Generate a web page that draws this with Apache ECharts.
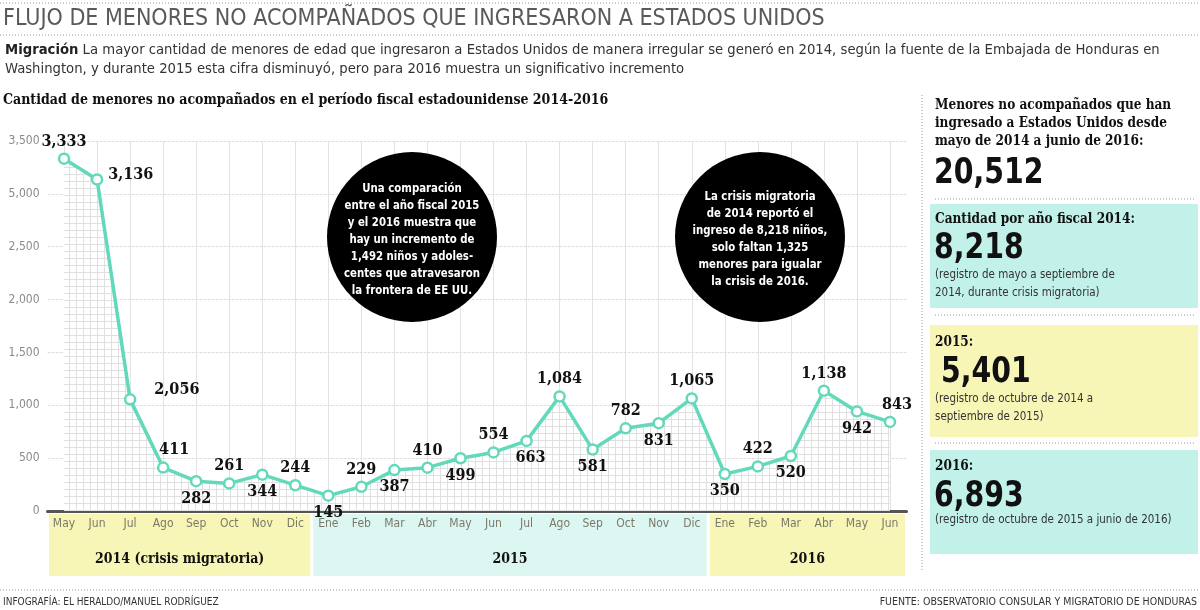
<!DOCTYPE html>
<html>
<head>
<meta charset="utf-8">
<script src="https://cdn.jsdelivr.net/npm/echarts@6/dist/echarts.min.js"></script>
<style>
html,body{margin:0;padding:0;background:#fff;}
#main{width:1200px;height:610px;}
</style>
</head>
<body>
<div id="main"></div>
<script>
// ---------- DATA ----------
const categories = ['May','Jun','Jul','Ago','Sep','Oct','Nov','Dic','Ene','Feb','Mar','Abr','May','Jun','Jul','Ago','Sep','Oct','Nov','Dic','Ene','Feb','Mar','Abr','May','Jun'];
const values = [3333,3136,1056,411,282,261,344,244,145,229,387,410,499,554,663,1084,581,782,831,1065,350,422,520,1138,942,843];
// point labels exactly as printed on the reference
const pointLabels = ['3,333','3,136','2,056','411','282','261','344','244','145','229','387','410','499','554','663','1,084','581','782','831','1,065','350','422','520','1,138','942','843'];
// y tick labels as printed
const yTickValues = [0,500,1000,1500,2000,2500,3000,3500];
const yTickLabels = ['0','500','1,000','1,500','2,000','2,500','5,000','3,500'];
// period bands
const periodNames = ['2014 (crisis migratoria)','2015','2016'];
const periodStart = [0,8,20];
const periodEnd = [7,19,25];
// summary panel
const totalTitle = ['Menores no acompañados que han','ingresado a Estados Unidos desde','mayo de 2014 a junio de 2016:'];
const totalValue = '20,512';
const fyTitles = ['Cantidad por año fiscal 2014:','2015:','2016:'];
const fyValues = ['8,218','5,401','6,893'];
const fyNotes = [['(registro de mayo a septiembre de','2014, durante crisis migratoria)'],['(registro de octubre de 2014 a','septiembre de 2015)'],['(registro de octubre de 2015 a junio de 2016)']];

// ---------- STYLE ----------
const labelPlacement = ['top','right','jul','agoTop','bottom','top','bottom','top','bottom','top','bottom','top','bottom','top','bottomR','top','bottom','top','bottom','top','bottom','top','bottom','top','bottom','topR'];
const YELLOW = '#f7f6b6', CYAN_BAND = '#dcf6f2', CYAN_BOX = '#c2f1e9', LINE = '#62d9bb';
const NARROW = "'Liberation Sans Narrow','DejaVu Sans Condensed',sans-serif";
const SERIF = "'DejaVu Serif Condensed','DejaVu Serif',serif";

function placement(p){
  switch(p){
    case 'top': return {position:'top', distance:3};
    case 'bottom': return {position:'bottom', distance:3};
    case 'right': return {position:'right', distance:5, offset:[0,-5]};
    case 'jul': return {position:'right', distance:18, offset:[0,-10]};
    case 'agoTop': return {position:'top', distance:3, offset:[11,0]};
    case 'bottomR': return {position:'bottom', distance:3, offset:[4,0]};
    case 'topR': return {position:'top', distance:3, offset:[7,0]};
  }
}

// hatch pattern for the area
const pc = document.createElement('canvas');
pc.width = 7; pc.height = 7;
const pctx = pc.getContext('2d');
pctx.fillStyle = '#ffffff'; pctx.fillRect(0,0,7,7);
pctx.fillStyle = '#e0e0e0';
pctx.fillRect(6,0,1,7); pctx.fillRect(0,6,7,1);

const seriesData = values.map((v,i)=>({value:v, label:placement(labelPlacement[i])}));

const chart = echarts.init(document.getElementById('main'), null, {renderer:'canvas'});

function dotted(x1,y1,x2,y2){
  return {type:'line', shape:{x1,y1,x2,y2}, style:{stroke:'#9a9a9a', lineWidth:1, lineDash:[1,2]}, silent:true};
}
function txt(x,y,text,font,fill,extra,sx){
  return {type:'text', x, y, scaleX:sx||1, silent:true, style:Object.assign({text, font, fill, textVerticalAlign:'middle'}, extra||{})};
}

const staticGraphics = [
  dotted(0,3,1200,3),
  txt(3,19,'FLUJO DE MENORES NO ACOMPAÑADOS QUE INGRESARON A ESTADOS UNIDOS','normal 23px '+NARROW,'#5a5a5a'),
  dotted(0,35,1200,35),
  {type:'text', x:5, y:50, silent:true, style:{text:'{b|Migración} La mayor cantidad de menores de edad que ingresaron a Estados Unidos de manera irregular se generó en 2014, según la fuente de la Embajada de Honduras en', font:'14.7px '+NARROW, fill:'#333', textVerticalAlign:'middle', rich:{b:{font:'bold 14.7px '+NARROW, fill:'#222'}}}},
  txt(5,69,'Washington, y durante 2015 esta cifra disminuyó, pero para 2016 muestra un significativo incremento','14.7px '+NARROW,'#333'),
  txt(3,100,'Cantidad de menores no acompañados en el período fiscal estadounidense 2014-2016','bold 14px '+SERIF,'#111'),
  // annotation circles
  {type:'circle', shape:{cx:412, cy:237, r:85}, style:{fill:'#000'}, z:5, silent:true},
  {type:'text', x:412, y:240, scaleX:0.87, z:6, silent:true, style:{text:'Una comparación\nentre el año fiscal 2015\ny el 2016 muestra que\nhay un incremento de\n1,492 niños y adoles-\ncentes que atravesaron\nla frontera de EE UU.', font:'bold 13px '+NARROW, fill:'#fff', align:'center', verticalAlign:'middle', lineHeight:17}},
  {type:'circle', shape:{cx:760, cy:237, r:85}, style:{fill:'#000'}, z:5, silent:true},
  {type:'text', x:760, y:239, scaleX:0.87, z:6, silent:true, style:{text:'La crisis migratoria\nde 2014 reportó el\ningreso de 8,218 niños,\nsolo faltan 1,325\nmenores para igualar\nla crisis de 2016.', font:'bold 13px '+NARROW, fill:'#fff', align:'center', verticalAlign:'middle', lineHeight:17}},
  // right panel
  dotted(922,95,922,572),
  txt(935,105,totalTitle[0],'bold 15px '+SERIF,'#111',null,0.9),
  txt(935,123,totalTitle[1],'bold 15px '+SERIF,'#111',null,0.9),
  txt(935,141,totalTitle[2],'bold 15px '+SERIF,'#111',null,0.9),
  txt(934,174,totalValue,'bold 35px '+NARROW,'#111',null,0.9),
  dotted(935,199,1195,199),
  {type:'rect', shape:{x:930,y:204,width:268,height:104}, style:{fill:CYAN_BOX}, silent:true},
  txt(935,219,fyTitles[0],'bold 15px '+SERIF,'#111',null,0.9),
  txt(934,249,fyValues[0],'bold 35px '+NARROW,'#111',null,0.9),
  txt(935,275,fyNotes[0][0],'11.5px '+NARROW,'#333'),
  txt(935,293,fyNotes[0][1],'11.5px '+NARROW,'#333'),
  dotted(935,315,1195,315),
  {type:'rect', shape:{x:930,y:325,width:268,height:112}, style:{fill:YELLOW}, silent:true},
  txt(935,342,fyTitles[1],'bold 15px '+SERIF,'#111',null,0.9),
  txt(941,373,fyValues[1],'bold 35px '+NARROW,'#111',null,0.9),
  txt(935,399,fyNotes[1][0],'11.5px '+NARROW,'#333'),
  txt(935,417,fyNotes[1][1],'11.5px '+NARROW,'#333'),
  dotted(935,443,1195,443),
  {type:'rect', shape:{x:930,y:450,width:268,height:104}, style:{fill:CYAN_BOX}, silent:true},
  txt(935,466,fyTitles[2],'bold 15px '+SERIF,'#111',null,0.9),
  txt(934,497,fyValues[2],'bold 35px '+NARROW,'#111',null,0.9),
  txt(935,520,fyNotes[2][0],'11.5px '+NARROW,'#333'),
  // footer
  dotted(0,590,1200,590),
  txt(3,602,'INFOGRAFÍA: EL HERALDO/MANUEL RODRÍGUEZ','10px '+NARROW,'#333'),
  txt(1197,602,'FUENTE: OBSERVATORIO CONSULAR Y MIGRATORIO DE HONDURAS','10.5px '+NARROW,'#333',{align:'right'})
];

const option = {
  animation:false,
  backgroundColor:'#fff',
  grid:{left:47.5, right:293.5, top:141, bottom:99, containLabel:false},
  xAxis:{
    type:'category', data:categories, boundaryGap:true,
    axisLine:{show:true, lineStyle:{color:'#555', width:3}},
    axisTick:{show:false},
    axisLabel:{color:'#7a7a6a', fontFamily:NARROW, fontSize:12, margin:7, interval:0},
    splitLine:{show:true, alignWithLabel:true, lineStyle:{color:'#e2e2e2', width:1}}
  },
  yAxis:{
    type:'value', min:0, max:3500, interval:500,
    axisLine:{show:false}, axisTick:{show:false},
    axisLabel:{color:'#8a8a8a', fontFamily:NARROW, fontSize:12, margin:8,
      formatter:(v)=>{const i=yTickValues.indexOf(v); return i>=0?yTickLabels[i]:'';}},
    splitLine:{lineStyle:{color:'#dedede', width:1, type:[3,1]}}
  },
  series:[{
    type:'line', data:seriesData, z:10,
    symbol:'circle', symbolSize:10, showAllSymbol:true,
    itemStyle:{color:'#fff', borderColor:LINE, borderWidth:2.5},
    lineStyle:{color:LINE, width:3.5},
    areaStyle:{color:{image:pc, repeat:'repeat'}, opacity:1, origin:'start'},
    label:{show:true, color:'#111', fontFamily:SERIF, fontWeight:'bold', fontSize:16,
      formatter:(p)=>pointLabels[p.dataIndex]}
  }],
  graphic: staticGraphics
};
chart.setOption(option);

// period bands below the axis, positioned via the category scale
const c0 = chart.convertToPixel({xAxisIndex:0}, 0);
const c1 = chart.convertToPixel({xAxisIndex:0}, 1);
const half = (c1 - c0)/2;
const bandColors = [YELLOW, CYAN_BAND, YELLOW];
const bands = [];
periodNames.forEach((name,i)=>{
  const xa = chart.convertToPixel({xAxisIndex:0}, periodStart[i]) - half + 1.5;
  const xb = chart.convertToPixel({xAxisIndex:0}, periodEnd[i]) + half - 1.5;
  bands.push({type:'rect', shape:{x:xa, y:514, width:xb-xa, height:62}, style:{fill:bandColors[i]}, z:-1, silent:true});
  bands.push({type:'text', x:(xa+xb)/2, y:559, silent:true, style:{text:name, font:'bold 14px '+SERIF, fill:'#111', align:'center', verticalAlign:'middle'}});
});
chart.setOption({graphic: staticGraphics.concat(bands)});
</script>
</body>
</html>
